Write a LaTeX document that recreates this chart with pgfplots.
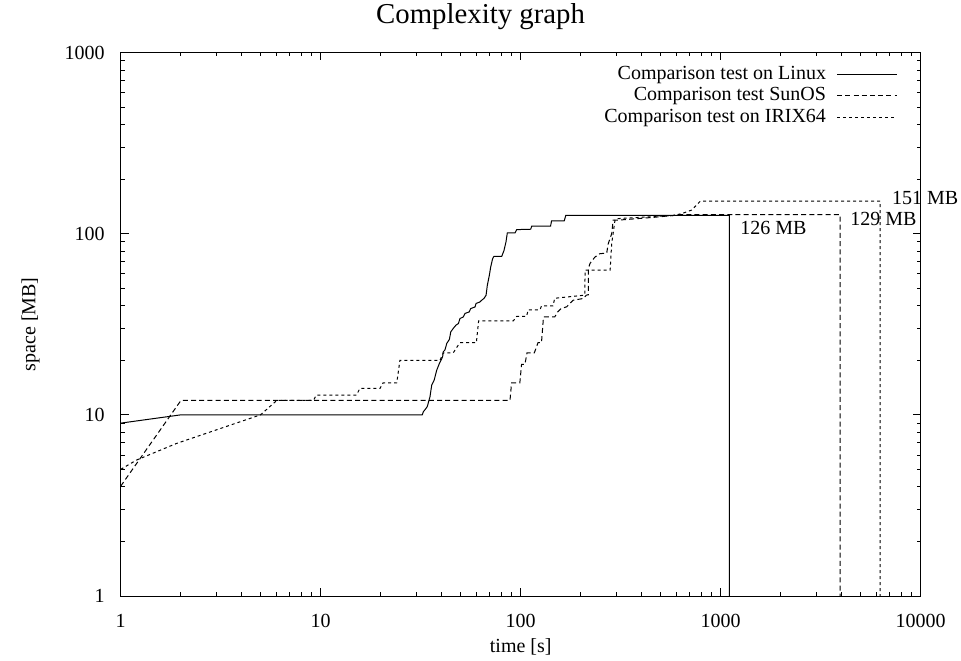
\documentclass[border=0pt]{standalone}
\usepackage{fontspec}
\setmainfont{Liberation Serif}
\usepackage{pgfplots}
\pgfplotsset{compat=1.18}
\begin{document}
\fontsize{10}{12}\selectfont
\begin{tikzpicture}
\useasboundingbox (-60.35pt,-32pt) rectangle (420.15pt,298pt);
\begin{loglogaxis}[
  scale only axis, width=400pt, height=271.75pt,
  xmin=1, xmax=10000, ymin=1, ymax=1000,
  clip=false,
  /pgf/number format/assume math mode=true,
  xtick={1,10,100,1000,10000}, xticklabels={1,10,100,1000,10000},
  ytick={1,10,100,1000}, yticklabels={1,10,100,1000},
  minor xtick={2,3,4,5,6,7,8,9,20,30,40,50,60,70,80,90,200,300,400,500,600,700,800,900,2000,3000,4000,5000,6000,7000,8000,9000},
  minor ytick={2,3,4,5,6,7,8,9,20,30,40,50,60,70,80,90,200,300,400,500,600,700,800,900},
  tick pos=both, tick align=inside,
  major tick length=4pt, minor tick length=2pt,
  every tick/.style={black, line width=0.5pt},
  axis line style={line width=0.5pt},
  xticklabel style={yshift=-5.5pt},
  yticklabel style={xshift=-4.5pt},
  xlabel={time [s]}, ylabel={space [MB]},
  every axis x label/.style={at={(axis description cs:0.5,-0.093)}, anchor=center},
  every axis y label/.style={at={(axis description cs:-0.1128,0.5)}, anchor=center, rotate=90},
  title={Complexity graph},
  every axis title/.style={at={(axis description cs:0.4498,1.0655)}, anchor=center, font=\fontsize{14.4}{17}\selectfont},
  legend plot pos=right, legend cell align=right,
  legend image code/.code={\draw[#1] (0pt,0pt) -- (30pt,0pt);},
  legend style={at={(0.9716,0.9805)}, anchor=north east, draw=none, fill=none,
    inner xsep=0pt, inner ysep=0pt, column sep=4pt,
    nodes={inner sep=1.3pt, text depth=0.15em}},
]
\addplot[black, line width=0.5pt] coordinates {
(1,9.0) (2,10) (32.2,10) (32.6,10.4) (33.5,10.8) (34.1,11.1) (35.2,12.6)
(35.9,14.6) (36.9,15.5) (38.0,17.6) (39.2,19.2) (40.7,20.9) (41.0,22.3)
(41.8,22.8) (42.7,24.8) (44.0,26.1) (44.7,28.7) (46.0,30.0) (47.5,31.3)
(48.8,31.9) (49.7,34.0) (51.6,34.7) (52.7,36.3) (55.3,37.0) (56.2,38.6)
(59.1,39.4) (59.8,41.2) (62.6,42.0) (63.8,42.9) (65.5,43.9) (67.1,45.7)
(68.1,51.9) (69.7,59.0) (70.8,65.5) (72.4,72.9) (73.5,75.0) (80.4,75.0)
(82.5,80.8) (84.4,90.0) (85.7,100.9) (93.7,100.9) (95.5,105.3) (112.2,105.8)
(113.5,110) (141,110) (142.6,117.5) (165,117.5) (168,126) (1106,126) (1106,1)
};
\addlegendentry{Comparison test on Linux}
\addplot[black, line width=0.5pt, dash pattern=on 2.5pt off 1.6pt] coordinates {
(1,4.04) (2,12) (88.4,12) (90,15) (99,15) (101,19) (105,19) (107.5,22)
(117,22) (122,25) (127,25) (130,34.7) (148,34.7) (153,37) (159,38.6)
(170,39.5) (176,41.2) (183,42.9) (206,43.9) (213,45.8) (218,46) (218,64.2)
(222,68.5) (235,74.3) (249,77.6) (269,78) (274,88) (285,100) (290,118.6)
(302,118.6) (459,123) (580,126) (603,127.5) (3953,127.5) (3953,1)
};
\addlegendentry{Comparison test SunOS}
\addplot[black, line width=0.5pt, dash pattern=on 1.5pt off 1.5pt] coordinates {
(1,5.0) (1.2,5.63) (1.9,6.95) (5,10) (6.03,12) (9.2,12) (9.5,12.85)
(15.1,12.85) (15.7,14) (19.8,14) (20.5,15) (24,15) (24.9,20) (39.5,20)
(41,22) (46,22) (49.6,25) (60,25) (61.6,33) (91.8,33) (95.5,35) (107,35)
(109,38) (125,38) (127,40) (145,40) (148,44) (206,45.7) (209,46) (210,63)
(280,63) (285,88) (296,118.6) (302,121) (580,126) (638,129) (716,135)
(790,151) (6265,151) (6265,1)
};
\addlegendentry{Comparison test on IRIX64}
\node[anchor=west, inner sep=0pt] at (axis cs:1249,107) {126 MB};
\node[anchor=west, inner sep=0pt] at (axis cs:4432,120) {129 MB};
\node[anchor=west, inner sep=0pt] at (axis cs:7161,158) {151 MB};
\end{loglogaxis}
\end{tikzpicture}
\end{document}
